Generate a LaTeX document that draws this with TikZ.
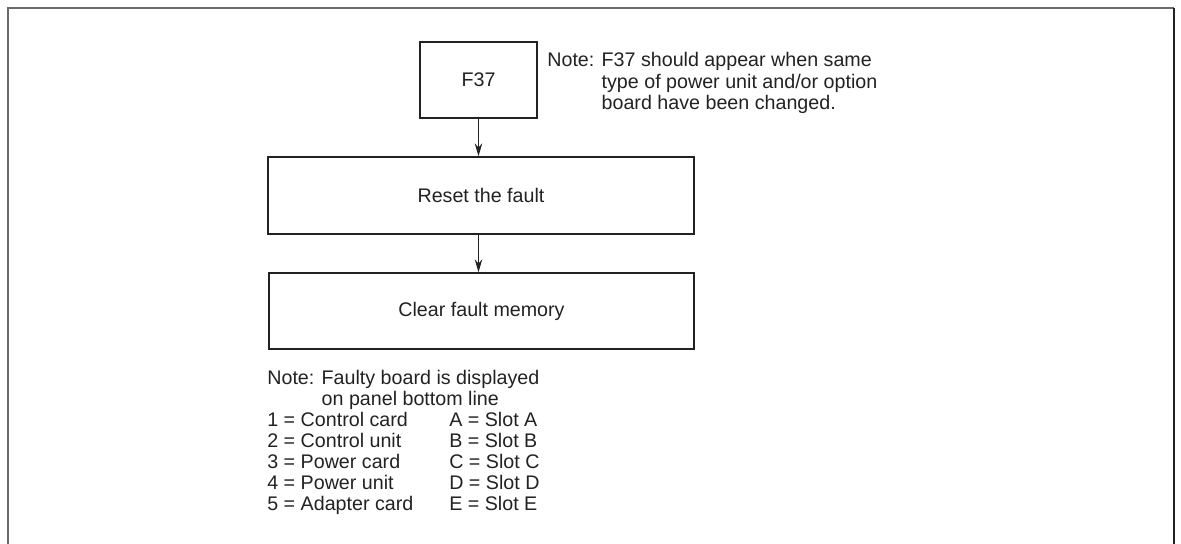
\documentclass[tikz,border=0pt]{standalone}
\usepackage{fontspec}
\setmainfont{Liberation Sans}
\usetikzlibrary{arrows.meta,positioning}
\definecolor{inkgray}{HTML}{222222}
\definecolor{framegray}{HTML}{6A6A6A}

\begin{document}
\begin{tikzpicture}[x=0.02cm, y=-0.02cm,
  font=\fontsize{11.2}{12}\selectfont,
  box/.style={draw=inkgray, line width=0.8pt, text=inkgray, inner sep=0pt},
  note/.style={text=inkgray, inner sep=0pt, anchor=base west},
  flow/.style={draw=inkgray, line width=0.7pt, -{Stealth[length=2.6mm,width=1.5mm]}}]

\useasboundingbox (0,0) rectangle (1181,544);

% Outer frame (open at the bottom)
\draw[framegray, line width=1.2pt] (8,544) -- (8,8) -- (1174,8);
\draw[inkgray, line width=1.2pt] (1174,8) -- (1174,544);

% Flow boxes
\node[box, minimum width=2.34cm, minimum height=1.52cm] (fault) at (478.5,80) {F37};
\node[box, minimum width=8.52cm, minimum height=1.54cm] (reset) at (481,195.5) {Reset the fault};
\node[box, minimum width=8.5cm, minimum height=1.52cm] (clear) at (481.5,311) {Clear fault memory};

% Arrows
\draw[flow] (fault.south) -- (fault.south |- reset.north);
\draw[flow] (fault.south |- reset.south) -- (fault.south |- clear.north);

% Note next to F37
\node[note] (topnote) at (547,67) {\begin{tabular}[t]{@{}l@{ }l@{}}
  Note: & F37 should appear when same\\
        & type of power unit and/or option\\
        & board have been changed.
\end{tabular}};

% Note on faulty board
\node[note] (boardnote) at (267,384) {\begin{tabular}[t]{@{}l@{ }l@{}}
  Note: & Faulty board is displayed\\
        & on panel bottom line
\end{tabular}};

% Board and slot codes
\node[note] (legend) at (267,426) {\begin{tabular}[t]{@{}p{3.64cm}@{}l@{}}
  1 = Control card & A = Slot A\\
  2 = Control unit & B = Slot B\\
  3 = Power card   & C = Slot C\\
  4 = Power unit   & D = Slot D\\
  5 = Adapter card & E = Slot E
\end{tabular}};

\end{tikzpicture}
\end{document}
